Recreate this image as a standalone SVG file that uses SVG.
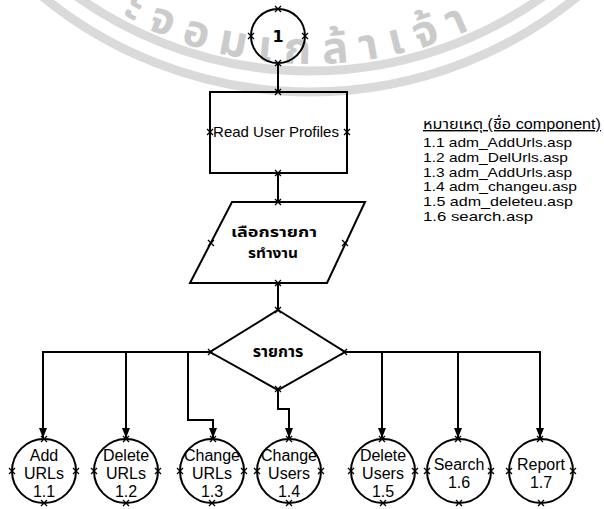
<svg xmlns="http://www.w3.org/2000/svg" xmlns:xlink="http://www.w3.org/1999/xlink" width="604" height="509" viewBox="0 0 604 509">
<style>
.ln{fill:none;stroke:#000;stroke-width:2}
.sh{fill:none;stroke:#000;stroke-width:2}
.lb{font-family:"Liberation Sans",Arial,sans-serif;font-size:16px;fill:#000;text-anchor:middle}
.th{font-family:"Noto Sans Thai","Noto Sans Thai UI",Tahoma,Loma,Garuda,"Noto Sans",sans-serif;fill:#000}
.lg{font-family:"Liberation Sans",Arial,"Noto Sans Thai",Tahoma,sans-serif;font-size:13px;fill:#000}
.xm{fill:none;stroke:#000;stroke-width:1.3}
</style>
<defs>
<path id="xm" d="M-3,-3L3,3M-3,3L3,-3" class="xm"/>
<marker id="ah" viewBox="0 0 10 8" refX="10" refY="4" markerWidth="10" markerHeight="8" markerUnits="userSpaceOnUse" orient="auto">
<path d="M0,0L10,4L0,8z" fill="#000"/>
</marker>
<path id="wmArc" d="M80,-10.1A394,394 0 0 0 540,-10.1"/>
</defs>
<rect width="604" height="509" fill="#fff"/>
<g id="watermark">
<circle cx="310" cy="-330" r="401" fill="none" stroke="#dadada" stroke-width="9"/>
<circle cx="310" cy="-330" r="422" fill="none" stroke="#dadada" stroke-width="9"/>
<text class="th" font-size="44" font-weight="bold" style="fill:#cbcbcb" letter-spacing="12"><textPath href="#wmArc" xlink:href="#wmArc" startOffset="48%" text-anchor="middle">ะจอมเกล้าเจ้า</textPath></text>
</g>
<g id="connectors">
<path class="ln" d="M278,63V92"/>
<path class="ln" d="M278,173V202"/>
<path class="ln" d="M278,283V310"/>
<path class="ln" d="M210,352H43V438" marker-end="url(#ah)"/>
<path class="ln" d="M126,352V438" marker-end="url(#ah)"/>
<path class="ln" d="M188,352V420H213V438" marker-end="url(#ah)"/>
<path class="ln" d="M278,390V409H289V438" marker-end="url(#ah)"/>
<path class="ln" d="M345,352H540V438" marker-end="url(#ah)"/>
<path class="ln" d="M382,352V438" marker-end="url(#ah)"/>
<path class="ln" d="M458,352V438" marker-end="url(#ah)"/>
</g>
<g id="n1">
<circle class="sh" cx="278" cy="36" r="27"/>
<text x="278" y="42" style="font-family:'DejaVu Sans',sans-serif;font-size:16px;font-weight:bold;text-anchor:middle">1</text>
<use href="#xm" xlink:href="#xm" x="278" y="9"/><use href="#xm" xlink:href="#xm" x="251" y="36"/><use href="#xm" xlink:href="#xm" x="305" y="36"/><use href="#xm" xlink:href="#xm" x="278" y="63"/>
</g>
<g id="read">
<rect class="sh" x="210" y="92" width="137" height="81"/>
<text class="lb" x="276" y="137" style="font-size:15px">Read User Profiles</text>
<use href="#xm" xlink:href="#xm" x="278" y="92"/><use href="#xm" xlink:href="#xm" x="210" y="132"/><use href="#xm" xlink:href="#xm" x="347" y="132"/><use href="#xm" xlink:href="#xm" x="278" y="173"/>
</g>
<g id="select">
<polygon class="sh" points="232,202 365,202 327,283 190,283"/>
<text class="th" x="274" y="237" font-size="14" font-weight="bold" text-anchor="middle" textLength="86" lengthAdjust="spacingAndGlyphs">เลือกรายกา</text>
<text class="th" x="273" y="258" font-size="14" font-weight="bold" text-anchor="middle" textLength="50" lengthAdjust="spacingAndGlyphs">รทำงาน</text>
<use href="#xm" xlink:href="#xm" x="278" y="202"/><use href="#xm" xlink:href="#xm" x="211" y="243"/><use href="#xm" xlink:href="#xm" x="345" y="243"/><use href="#xm" xlink:href="#xm" x="278" y="283"/>
</g>
<g id="decision">
<polygon class="sh" points="278,310 345,352 278,390 210,352"/>
<text class="th" x="278" y="357" font-size="16" font-weight="bold" text-anchor="middle">รายการ</text>
<use href="#xm" xlink:href="#xm" x="278" y="310"/><use href="#xm" xlink:href="#xm" x="211" y="352"/><use href="#xm" xlink:href="#xm" x="344" y="352"/><use href="#xm" xlink:href="#xm" x="278" y="389"/>
</g>
<g id="legend">
<text class="lg" x="423" y="129" style="font-size:14px" textLength="178" lengthAdjust="spacingAndGlyphs" text-decoration="underline">หมายเหตุ (ชื่อ component)</text>
<text class="lg" x="423" y="147" textLength="149" lengthAdjust="spacingAndGlyphs">1.1 adm_AddUrls.asp</text>
<text class="lg" x="423" y="162" textLength="145" lengthAdjust="spacingAndGlyphs">1.2 adm_DelUrls.asp</text>
<text class="lg" x="423" y="177" textLength="149" lengthAdjust="spacingAndGlyphs">1.3 adm_AddUrls.asp</text>
<text class="lg" x="423" y="191" textLength="154" lengthAdjust="spacingAndGlyphs">1.4 adm_changeu.asp</text>
<text class="lg" x="423" y="206" textLength="150" lengthAdjust="spacingAndGlyphs">1.5 adm_deleteu.asp</text>
<text class="lg" x="423" y="221" textLength="110" lengthAdjust="spacingAndGlyphs">1.6 search.asp</text>
</g>
<g id="p11">
<circle class="sh" cx="44" cy="471" r="32"/>
<text class="lb" x="44" y="461">Add</text><text class="lb" x="44" y="479">URLs</text><text class="lb" x="44" y="497">1.1</text>
<use href="#xm" xlink:href="#xm" x="44" y="439"/><use href="#xm" xlink:href="#xm" x="12" y="471"/><use href="#xm" xlink:href="#xm" x="76" y="471"/><use href="#xm" xlink:href="#xm" x="44" y="503"/>
</g>
<g id="p12">
<circle class="sh" cx="126" cy="471" r="32"/>
<text class="lb" x="126" y="461">Delete</text><text class="lb" x="126" y="479">URLs</text><text class="lb" x="126" y="497">1.2</text>
<use href="#xm" xlink:href="#xm" x="126" y="439"/><use href="#xm" xlink:href="#xm" x="94" y="471"/><use href="#xm" xlink:href="#xm" x="158" y="471"/><use href="#xm" xlink:href="#xm" x="126" y="503"/>
</g>
<g id="p13">
<circle class="sh" cx="212" cy="471" r="32"/>
<text class="lb" x="212" y="461">Change</text><text class="lb" x="212" y="479">URLs</text><text class="lb" x="212" y="497">1.3</text>
<use href="#xm" xlink:href="#xm" x="213" y="439"/><use href="#xm" xlink:href="#xm" x="180" y="471"/><use href="#xm" xlink:href="#xm" x="244" y="471"/><use href="#xm" xlink:href="#xm" x="212" y="503"/>
</g>
<g id="p14">
<circle class="sh" cx="289" cy="471" r="32"/>
<text class="lb" x="289" y="461">Change</text><text class="lb" x="289" y="479">Users</text><text class="lb" x="289" y="497">1.4</text>
<use href="#xm" xlink:href="#xm" x="289" y="439"/><use href="#xm" xlink:href="#xm" x="257" y="471"/><use href="#xm" xlink:href="#xm" x="321" y="471"/><use href="#xm" xlink:href="#xm" x="289" y="503"/>
</g>
<g id="p15">
<circle class="sh" cx="383" cy="471" r="32"/>
<text class="lb" x="383" y="461">Delete</text><text class="lb" x="383" y="479">Users</text><text class="lb" x="383" y="497">1.5</text>
<use href="#xm" xlink:href="#xm" x="382" y="439"/><use href="#xm" xlink:href="#xm" x="351" y="471"/><use href="#xm" xlink:href="#xm" x="415" y="471"/><use href="#xm" xlink:href="#xm" x="383" y="503"/>
</g>
<g id="p16">
<circle class="sh" cx="459" cy="471" r="32"/>
<text class="lb" x="459" y="470">Search</text><text class="lb" x="459" y="488">1.6</text>
<use href="#xm" xlink:href="#xm" x="458" y="439"/><use href="#xm" xlink:href="#xm" x="427" y="471"/><use href="#xm" xlink:href="#xm" x="491" y="471"/><use href="#xm" xlink:href="#xm" x="459" y="503"/>
</g>
<g id="p17">
<circle class="sh" cx="541" cy="471" r="32"/>
<text class="lb" x="541" y="470">Report</text><text class="lb" x="541" y="488">1.7</text>
<use href="#xm" xlink:href="#xm" x="540" y="439"/><use href="#xm" xlink:href="#xm" x="509" y="471"/><use href="#xm" xlink:href="#xm" x="573" y="471"/><use href="#xm" xlink:href="#xm" x="541" y="503"/>
</g>
</svg>
